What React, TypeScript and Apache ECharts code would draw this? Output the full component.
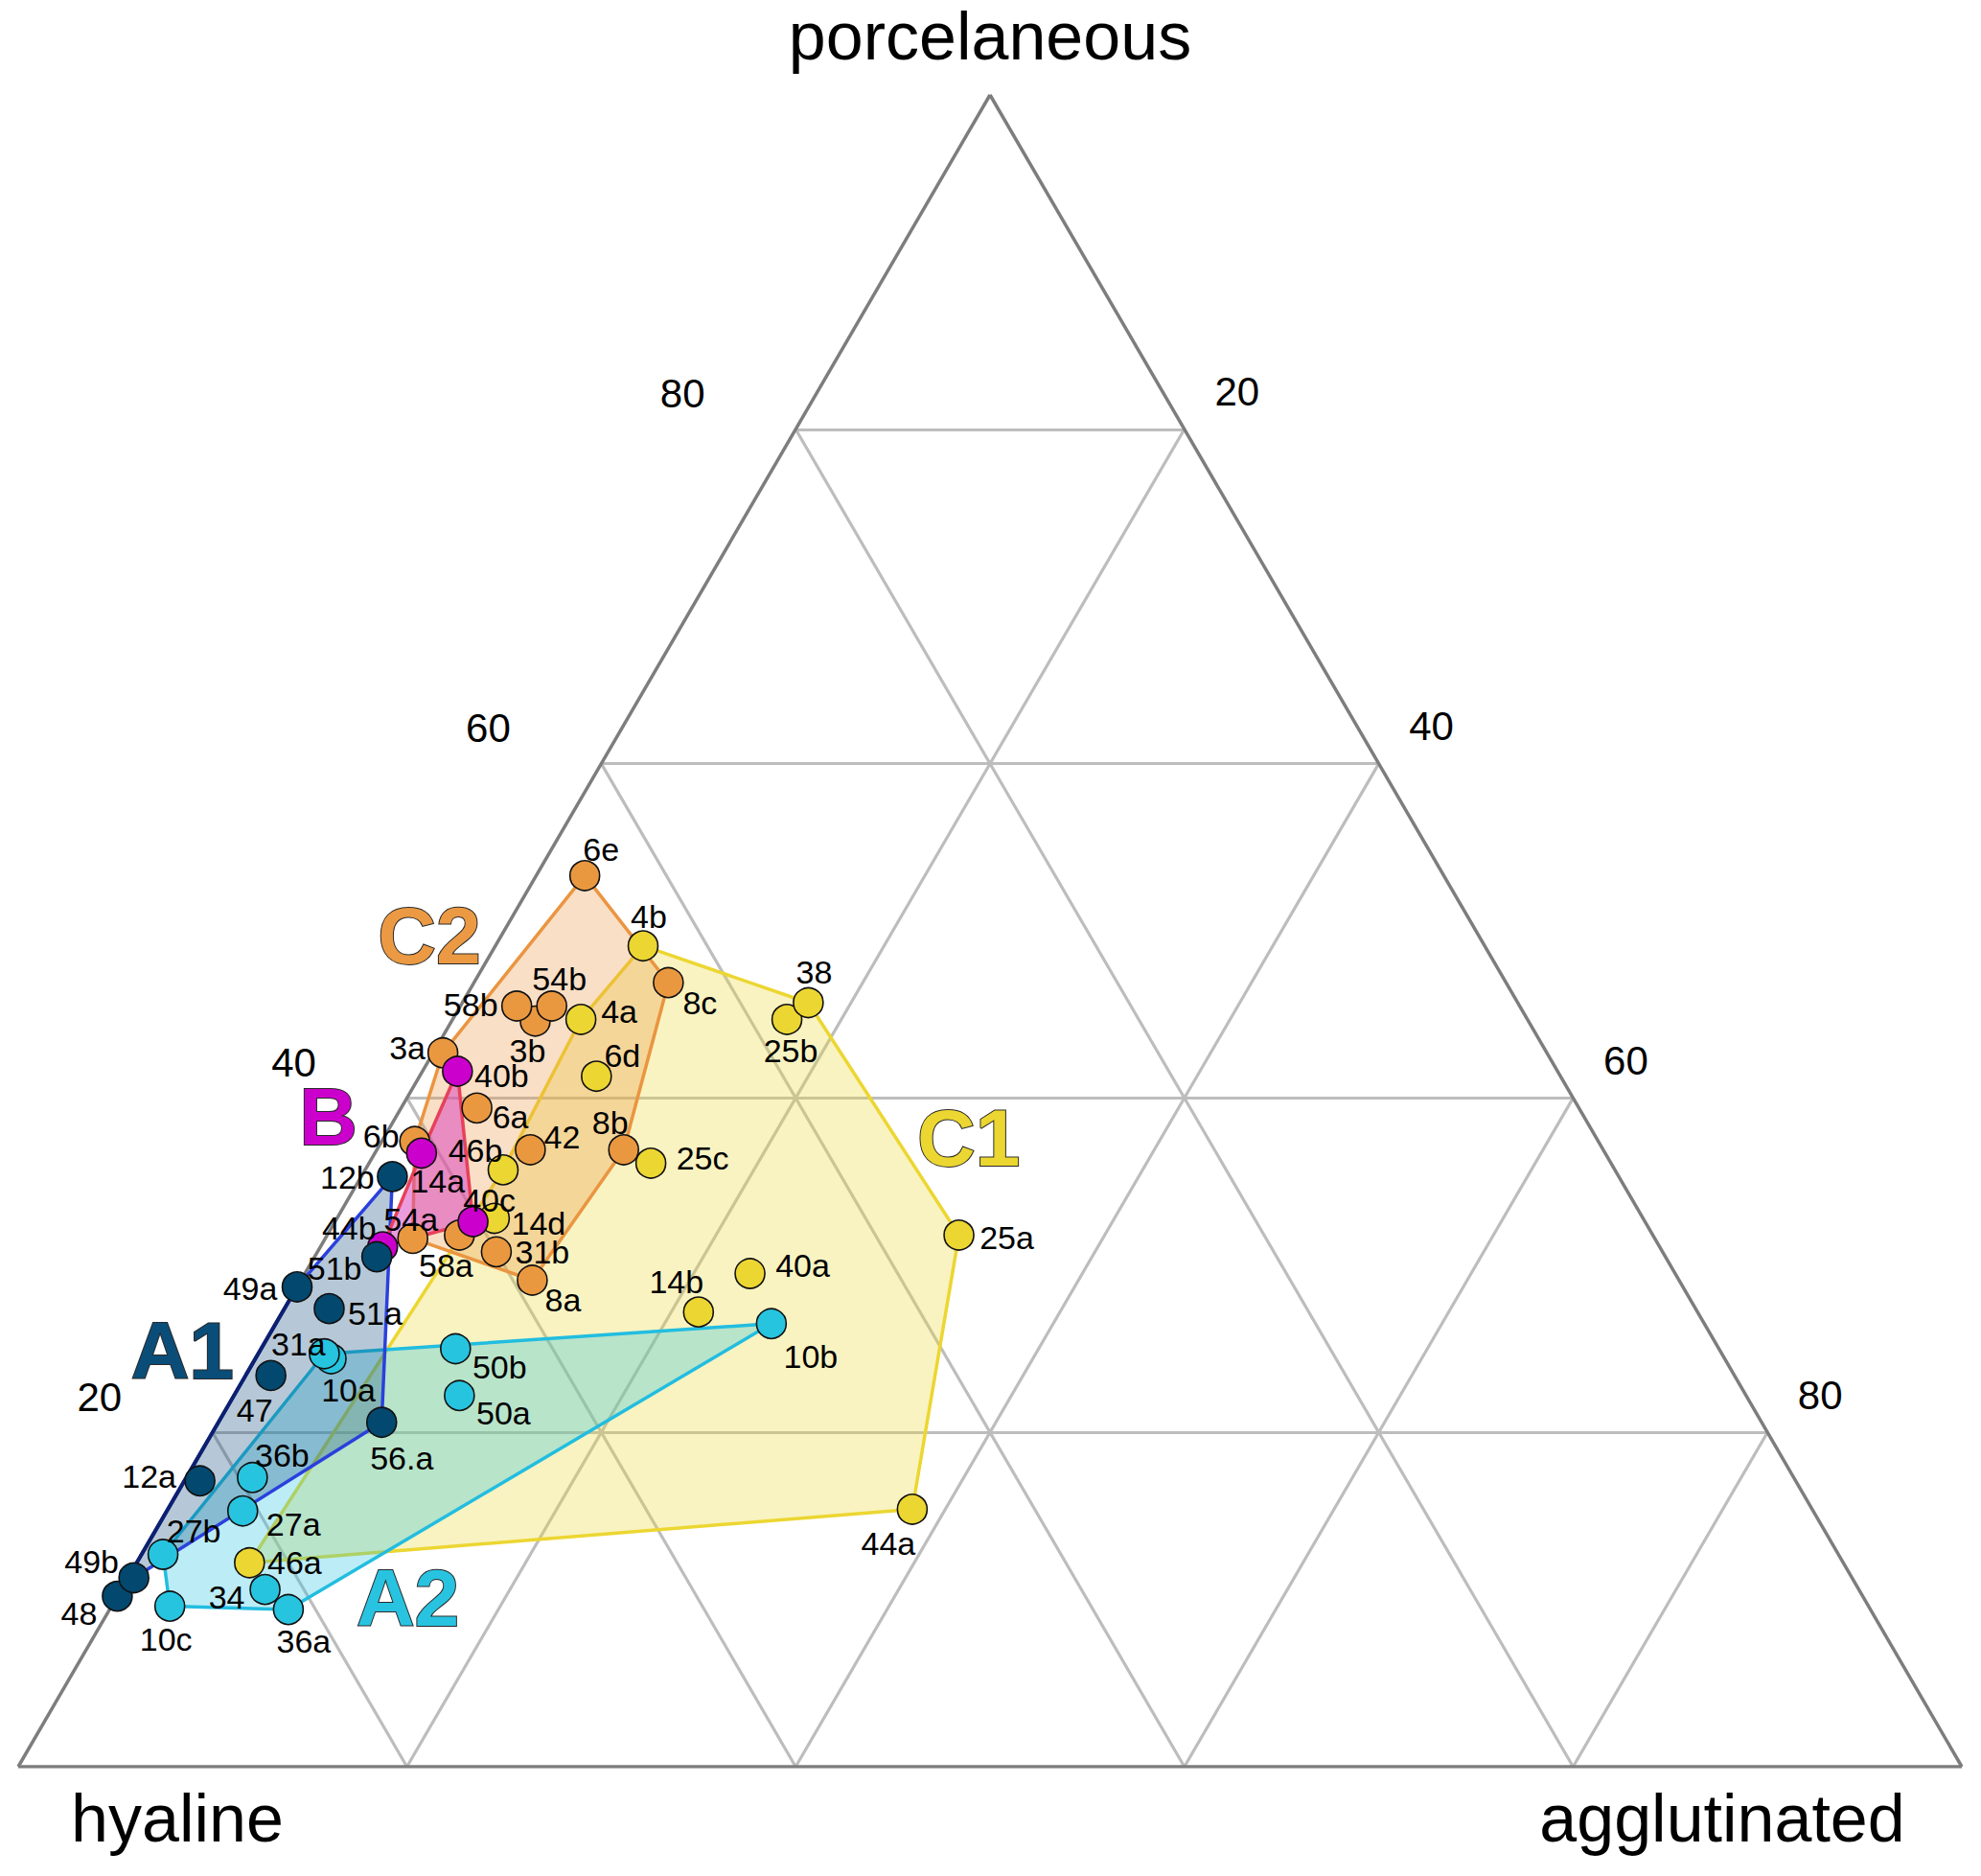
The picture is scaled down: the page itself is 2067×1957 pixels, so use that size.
import React, { useEffect, useRef } from "react";
import * as echarts from "echarts";

const FONT = "'Liberation Sans', Arial, Helvetica, sans-serif";

// Ternary data: porcelaneous %, agglutinated % (hyaline = rest)
const C1_NAMES = ["4b", "4a", "6d", "25b", "38", "25c", "46b", "14d", "25a", "40a", "14b", "44a", "46a"];
const C1_PORC = [49.1, 44.7, 41.3, 44.7, 45.7, 36.1, 35.7, 32.8, 31.8, 29.5, 27.2, 15.4, 12.2];
const C1_AGGL = [7.6, 6.6, 9.1, 17.2, 17.8, 14.5, 7.1, 8.1, 32.5, 22.9, 21.4, 38.3, 5.8];
const C1_HULL = ["46a", "46b", "4a", "4b", "38", "25a", "44a"];

const C2_NAMES = ["6e", "8c", "3b", "58b", "54b", "3a", "6a", "42", "8b", "6b", "54a", "58a", "31b", "8a"];
const C2_PORC = [53.3, 46.9, 44.6, 45.5, 45.5, 42.7, 39.4, 36.9, 36.9, 37.4, 31.6, 31.8, 30.8, 29.1];
const C2_AGGL = [2.5, 10.0, 4.3, 2.9, 4.7, 0.5, 3.9, 7.9, 12.7, 1.7, 4.5, 6.8, 9.2, 11.9];
const C2_HULL = ["6e", "8c", "8b", "8a", "54a", "6b", "3a"];

const B_NAMES = ["40b", "14a", "40c", "44b"];
const B_PORC = [41.6, 36.7, 32.6, 31.1];
const B_AGGL = [1.8, 2.4, 7.1, 3.2];
const B_HULL = ["40b", "40c", "44b", "14a"];

const A1_NAMES = ["12b", "49a", "51a", "47", "56.a", "12a", "48", "49b", "51b"];
const A1_PORC = [35.3, 28.7, 27.4, 23.4, 20.6, 17.1, 10.2, 11.3, 30.5];
const A1_AGGL = [1.6, 0.0, 2.3, 1.3, 8.4, 0.8, 0.0, 0.3, 3.2];
const A1_HULL = ["12b", "56.a", "49b", "48", "49a"];
const A1_EDGE = ["48", "49a"];

const A2_NAMES = ["10a", "31a", "50b", "50a", "10b", "36b", "27a", "27b", "34", "36a", "10c"];
const A2_PORC = [24.4, 24.7, 25.0, 22.2, 26.5, 17.3, 15.3, 12.7, 10.6, 9.4, 9.6];
const A2_AGGL = [3.9, 3.4, 10.0, 11.6, 25.5, 3.4, 3.9, 1.1, 7.4, 9.2, 3.0];
const A2_HULL = ["31a", "10b", "36a", "10c", "27b"];

const TICKS = [20, 40, 60, 80];
const GRID_VALUES = [20, 40, 60, 80];
const AXIS_TITLES = ["porcelaneous", "hyaline", "agglutinated"];
const GROUP_NAMES = ["C2", "B", "A1", "A2", "C1"];
const GROUP_PORC = [49.7, 38.9, 24.9, 10.1, 37.6];
const GROUP_AGGL = [-3.7, -3.5, -4.0, 15.0, 30.1];

// label placement offsets (px) for sample labels
const LABEL_OFFSETS: Record<string, [number, number]> = {
  "6e": [17, -27], "4b": [6, -31], "8c": [33, 21], "58b": [-48, -1], "54b": [8, -28],
  "3b": [-8, 31], "4a": [40, -8], "3a": [-37, -5], "40b": [46, 5], "6d": [27, -22],
  "6a": [35, 9], "42": [33, -13], "8b": [-14, -28], "6b": [-35, -6], "46b": [-29, -20],
  "12b": [-47, 1], "14a": [17, 29], "40c": [17, -22], "14d": [46, 5], "54a": [-2, -20],
  "58a": [-14, 32], "31b": [48, 0], "8a": [32, 21], "44b": [-35, -20], "51b": [-44, 12],
  "49a": [-49, 2], "51a": [48, 5], "31a": [-27, -10], "10a": [18, 33], "47": [-17, 36],
  "56.a": [21, 37], "12a": [-53, -5], "36b": [31, -23], "50b": [46, 19], "50a": [46, 18],
  "27a": [53, 14], "27b": [32, -25], "46a": [47, 0], "49b": [-44, -17], "48": [-40, 18],
  "34": [-40, 8], "36a": [16, 33], "10c": [-4, 34], "38": [6, -32], "25b": [4, 33],
  "25c": [54, -5], "25a": [50, 3], "40a": [55, -9], "14b": [-23, -32], "10b": [41, 34],
  "44a": [-25, 36],
};

const toXY = (p: number, a: number): [number, number] => [a + p / 2, p];

type Group = {
  names: string[];
  porc: number[];
  aggl: number[];
  hull: string[];
  color: string;
  fill: string;
  stroke: string;
};

const GROUPS: Record<string, Group> = {
  C1: { names: C1_NAMES, porc: C1_PORC, aggl: C1_AGGL, hull: C1_HULL, color: "#ecd631", fill: "rgba(236,216,50,0.3)", stroke: "#ecd631" },
  C2: { names: C2_NAMES, porc: C2_PORC, aggl: C2_AGGL, hull: C2_HULL, color: "#ea9840", fill: "rgba(234,150,62,0.3)", stroke: "#ea9540" },
  B: { names: B_NAMES, porc: B_PORC, aggl: B_AGGL, hull: B_HULL, color: "#cc00cc", fill: "rgba(216,57,189,0.5)", stroke: "#e8405a" },
  A1: { names: A1_NAMES, porc: A1_PORC, aggl: A1_AGGL, hull: A1_HULL, color: "#03486f", fill: "rgba(12,74,122,0.3)", stroke: "#2a40dd" },
  A2: { names: A2_NAMES, porc: A2_PORC, aggl: A2_AGGL, hull: A2_HULL, color: "#27c4e0", fill: "rgba(34,195,224,0.3)", stroke: "#22bde0" },
};

const GROUP_LABEL_COLORS: Record<string, string> = {
  C2: "#eb9a43", B: "#cc00cc", A1: "#0a4d78", A2: "#28c3e0", C1: "#ecd631",
};

function pointOf(g: Group, name: string): [number, number] {
  const i = g.names.indexOf(name);
  return toXY(g.porc[i], g.aggl[i]);
}

function buildOption() {
  const gridSegs: { coords: [number, number][] }[] = [];
  GRID_VALUES.forEach((v) => {
    gridSegs.push({ coords: [toXY(v, 0), toXY(v, 100 - v)] });
    gridSegs.push({ coords: [toXY(0, v), toXY(100 - v, v)] });
    gridSegs.push({ coords: [toXY(0, 100 - v), toXY(100 - v, 0)] });
  });
  const frame = [
    { coords: [toXY(0, 0), toXY(0, 100)] },
    { coords: [toXY(0, 100), toXY(100, 0)] },
    { coords: [toXY(100, 0), toXY(0, 0)] },
  ];

  const polyOrder = ["C1", "C2", "A2", "A1", "B"];
  const polySeries = polyOrder.map((key, k) => {
    const g = GROUPS[key];
    return {
      type: "custom",
      coordinateSystem: "cartesian2d",
      silent: true,
      z: 3 + k * 0.01,
      clip: false,
      data: [[0, 0]],
      renderItem: (_params: any, api: any) => {
        const pts = g.hull.map((n) => api.coord(pointOf(g, n)));
        const children: any[] = [
          {
            type: "polygon",
            shape: { points: pts },
            style: { fill: g.fill, stroke: g.stroke, lineWidth: 3.5, lineJoin: "round" },
          },
        ];
        if (key === "A1") {
          children.push({
            type: "polyline",
            shape: { points: A1_EDGE.map((n) => api.coord(pointOf(g, n))) },
            style: { fill: null, stroke: "#0d2070", lineWidth: 4 },
          });
        }
        return { type: "group", children };
      },
    };
  });

  const pointOrder = ["C1", "C2", "B", "A1", "A2"];
  const pointSeries = pointOrder.map((key, k) => {
    const g = GROUPS[key];
    return {
      type: "scatter",
      name: key,
      z: 10 + k,
      symbol: "circle",
      symbolSize: 31,
      itemStyle: { color: g.color, borderColor: "#111", borderWidth: 1.6, opacity: 1 },
      label: {
        show: true,
        position: "inside",
        formatter: "{b}",
        color: "#000",
        opacity: 1,
        textBorderWidth: 0,
        fontSize: 34,
        fontFamily: FONT,
      },
      data: g.names.map((n, i) => ({
        name: n,
        value: toXY(g.porc[i], g.aggl[i]),
        label: { offset: LABEL_OFFSETS[n] || [0, 0] },
      })),
    };
  });

  const tickData: any[] = [];
  TICKS.forEach((v) => {
    tickData.push({ name: String(v), value: toXY(v, 0), label: { offset: [-118, -37] } });
    tickData.push({ name: String(v), value: toXY(100 - v, v), label: { offset: [55, -39] } });
  });

  const titleData = [
    { name: AXIS_TITLES[0], value: toXY(100, 0), label: { offset: [0, -61] } },
    { name: AXIS_TITLES[1], value: toXY(0, 0), label: { offset: [166, 54] } },
    { name: AXIS_TITLES[2], value: toXY(0, 100), label: { offset: [-250, 54] } },
  ];

  const groupLabelData = GROUP_NAMES.map((n, i) => ({
    name: n,
    value: toXY(GROUP_PORC[i], GROUP_AGGL[i]),
    label: { color: GROUP_LABEL_COLORS[n] },
  }));

  const textSeriesBase = {
    type: "scatter",
    silent: true,
    symbolSize: 0,
    clip: false,
    itemStyle: { opacity: 1, color: "transparent" },
  };

  return {
    animation: false,
    backgroundColor: "#ffffff",
    grid: { left: 19, top: 99, width: 2028, height: 1744 },
    xAxis: { type: "value", min: 0, max: 100, show: false },
    yAxis: { type: "value", min: 0, max: 100, show: false },
    series: [
      {
        type: "lines",
        coordinateSystem: "cartesian2d",
        silent: true,
        z: 1,
        lineStyle: { color: "#bdbdbd", width: 3.2, opacity: 1 },
        data: gridSegs,
      },
      {
        type: "lines",
        coordinateSystem: "cartesian2d",
        silent: true,
        z: 2,
        lineStyle: { color: "#7d7d7d", width: 3.5, opacity: 1 },
        data: frame,
      },
      ...polySeries,
      ...pointSeries,
      {
        ...textSeriesBase,
        z: 20,
        label: { show: true, position: "inside", formatter: "{b}", color: "#000", opacity: 1, textBorderWidth: 0, fontSize: 42, fontFamily: FONT },
        data: tickData,
      },
      {
        ...textSeriesBase,
        z: 20,
        label: { show: true, position: "inside", formatter: "{b}", color: "#000", opacity: 1, textBorderWidth: 0, fontSize: 70, fontFamily: FONT },
        data: titleData,
      },
      {
        ...textSeriesBase,
        z: 21,
        label: {
          show: true,
          position: "inside",
          formatter: "{b}",
          opacity: 1,
          fontSize: 84,
          fontWeight: "bold",
          fontFamily: FONT,
          textBorderColor: "#2a2a2a",
          textBorderWidth: 2,
        },
        data: groupLabelData,
      },
    ],
  };
}

export default function App() {
  const ref = useRef<HTMLDivElement>(null);
  useEffect(() => {
    if (!ref.current) return;
    const chart = echarts.init(ref.current, undefined, { renderer: "svg" });
    chart.setOption(buildOption() as any);
    return () => chart.dispose();
  }, []);
  return (
    <div
      ref={ref}
      style={{ position: "absolute", left: 0, top: 0, width: 2067, height: 1957, background: "#fff" }}
    />
  );
}
